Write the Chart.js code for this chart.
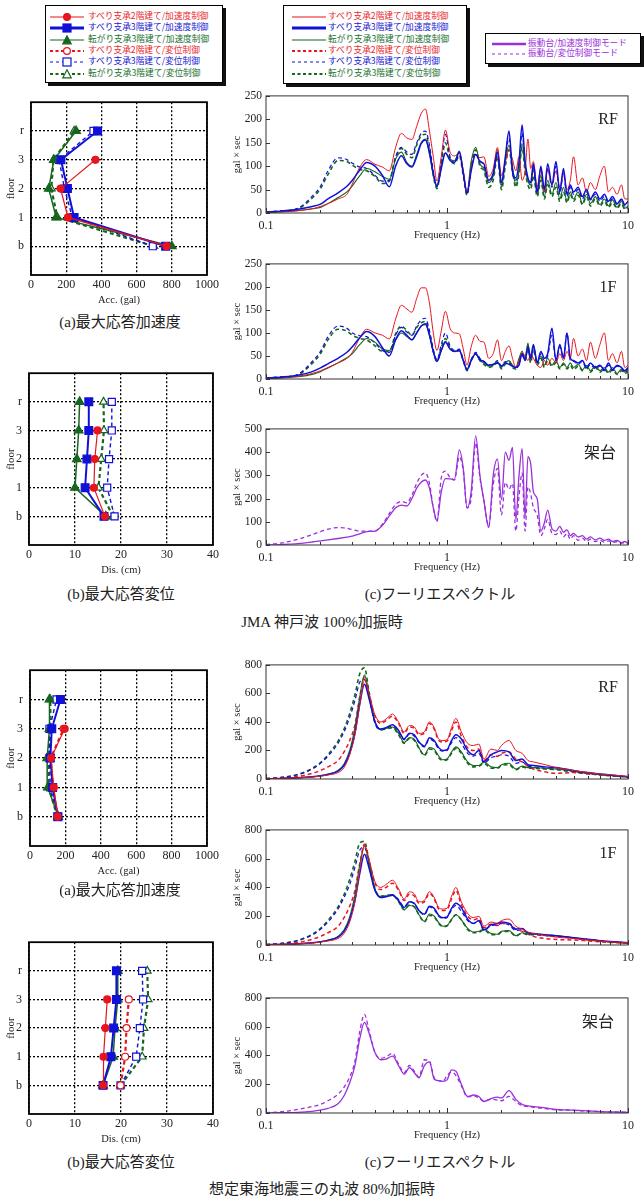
<!DOCTYPE html>
<html>
<head>
<meta charset="utf-8">
<script src="https://cdn.jsdelivr.net/npm/chart.js@4.4.1/dist/chart.umd.min.js"></script>
<style>
  body { margin: 0; width: 644px; height: 1198px; background: #fff; position: relative; overflow: hidden;
         font-family: "Liberation Serif", "Noto Sans CJK JP", serif; color: #222; }
  canvas { position: absolute; }
  .legend { position: absolute; border: 1px solid #000; background: #fff; box-shadow: 3px 3px 0 #111; }
  .row { position: absolute; height: 12px; left: 0; right: 0; }
  .row svg { position: absolute; top: 1px; }
  .row span { position: absolute; top: -1px; font-family: "Noto Sans CJK JP", sans-serif; font-size: 8.7px; white-space: nowrap; line-height: 12px; }
  .txt { position: absolute; transform: translate(-50%, -50%); white-space: nowrap; }
  .cap { font-size: 15px; }
  .tag { font-size: 16px; }
  .tagj { font-size: 16px; font-family: "Noto Sans CJK JP", sans-serif; }
</style>
</head>
<body>

<div class="legend" id="leg1" style="left:45px;top:5px;width:176px;height:76px"></div>
<div class="legend" id="leg2" style="left:283px;top:5px;width:182px;height:77px"></div>
<div class="legend" id="leg3" style="left:485px;top:33px;width:154px;height:29px"></div>

<canvas id="kobeAcc" width="222" height="221" style="left:0;top:88px"></canvas>
<canvas id="kobeDis" width="222" height="220" style="left:0;top:359px"></canvas>
<canvas id="tokaiAcc" width="222" height="224" style="left:0;top:656px"></canvas>
<canvas id="tokaiDis" width="222" height="220" style="left:0;top:928px"></canvas>

<canvas id="kobeRf" width="414" height="159" style="left:226px;top:85px"></canvas>
<canvas id="kobe1f" width="414" height="157" style="left:226px;top:253px"></canvas>
<canvas id="kobeBase" width="414" height="158" style="left:226px;top:418px"></canvas>
<canvas id="tokaiRf" width="414" height="156" style="left:226px;top:654px"></canvas>
<canvas id="tokai1f" width="414" height="157" style="left:226px;top:819px"></canvas>
<canvas id="tokaiBase" width="414" height="157" style="left:226px;top:987px"></canvas>

<div class="txt tag" style="left:608px;top:119px">RF</div>
<div class="txt tag" style="left:608px;top:287px">1F</div>
<div class="txt tagj" style="left:600px;top:451px">架台</div>
<div class="txt tag" style="left:608px;top:687px">RF</div>
<div class="txt tag" style="left:608px;top:853px">1F</div>
<div class="txt tagj" style="left:598px;top:1020px">架台</div>

<div class="txt cap" style="left:120px;top:320px">(a)最大応答加速度</div>
<div class="txt cap" style="left:121px;top:592px">(b)最大応答変位</div>
<div class="txt cap" style="left:440px;top:592px">(c)フーリエスペクトル</div>
<div class="txt cap" style="left:322px;top:620px">JMA 神戸波 100%加振時</div>
<div class="txt cap" style="left:120px;top:888px">(a)最大応答加速度</div>
<div class="txt cap" style="left:121px;top:1160px">(b)最大応答変位</div>
<div class="txt cap" style="left:440px;top:1160px">(c)フーリエスペクトル</div>
<div class="txt cap" style="left:322px;top:1187px">想定東海地震三の丸波 80%加振時</div>

<script>
// ---- profile data (floor order: b, 1, 2, 3, r) ----
const floorLabels = ['b', '1', '2', '3', 'r'];

const kobeAccS2A = [770, 210, 168, 366];
const kobeAccS3A = [765, 245, 207, 170, 378];
const kobeAccR3A = [800, 143, 101, 130, 256];
const kobeAccS3D = [692, 235, 190, 160, 355];
const kobeAccR3D = [698, 150, 115, 128, 245];

const kobeDisS2A = [16.5, 14.1, 14.3, 14.9];
const kobeDisS3A = [16.3, 12.2, 12.6, 13.0, 13.0];
const kobeDisR3A = [16.7, 10.0, 10.4, 10.8, 11.0];
const kobeDisS3D = [18.6, 17.0, 17.4, 18.0, 18.0];
const kobeDisR3D = [18.3, 15.1, 15.7, 16.3, 16.2];

const tokaiAccS2A = [156, 134, 119, 196];
const tokaiAccS3A = [158, 128, 115, 123, 172];
const tokaiAccR3A = [160, 101, 97, 110, 110];
const tokaiAccS2D = [156, 130, 117, 190];
const tokaiAccS3D = [155, 115, 110, 110, 150];
const tokaiAccR3D = [155, 105, 105, 115, 115];

const tokaiDisS2A = [16.1, 16.2, 16.6, 17.0];
const tokaiDisS3A = [16.1, 17.8, 18.4, 19.0, 19.0];
const tokaiDisR3A = [16.1, 18.3, 18.7, 19.3, 19.3];
const tokaiDisS2D = [19.9, 20.9, 21.2, 21.7];
const tokaiDisS3D = [19.9, 23.3, 24.1, 24.8, 24.6];
const tokaiDisR3D = [19.9, 24.6, 25.0, 25.9, 25.7];

// ---- spectra: JMA Kobe ----
const kobeFreq = [
  0.1, 0.12, 0.15, 0.18, 0.2, 0.22, 0.25, 0.28, 0.3, 0.33,
  0.36, 0.4, 0.44, 0.48, 0.52, 0.56, 0.6, 0.64, 0.68, 0.72,
  0.76, 0.8, 0.84, 0.88, 0.93, 0.98, 1.04, 1.1, 1.17, 1.23,
  1.29, 1.36, 1.44, 1.52, 1.6, 1.7, 1.8, 1.9, 2.0, 2.1,
  2.2, 2.3, 2.4, 2.5, 2.6, 2.7, 2.8, 2.9, 3.0, 3.15,
  3.3, 3.45, 3.6, 3.8, 4.0, 4.2, 4.4, 4.6, 4.8, 5.0,
  5.3, 5.6, 5.9, 6.2, 6.6, 7.0, 7.4, 7.8, 8.2, 8.7,
  9.2, 9.6, 10];

const kobeRfS2A = [
  2, 3, 5, 9, 14, 20, 30, 40, 62, 98,
  114, 104, 98, 90, 140, 170, 160, 157, 185, 212,
  222, 175, 120, 68, 120, 177, 130, 122, 128, 90,
  42, 95, 125, 118, 120, 78, 95, 140, 80, 110,
  135, 115, 90, 120, 70, 90, 158, 95, 110, 55,
  95, 45, 95, 60, 90, 55, 85, 50, 70, 120,
  60, 75, 45, 65, 50, 80, 100, 45, 55, 40,
  60, 30, 30];
const kobeRfS3A = [
  2, 4, 8, 14, 19, 30, 43, 57, 70, 92,
  108, 100, 80, 56, 100, 122, 105, 98, 120, 148,
  156, 130, 85, 57, 95, 128, 112, 108, 130, 85,
  42, 90, 125, 110, 105, 70, 85, 130, 65, 120,
  175, 90, 75, 110, 188, 110, 75, 65, 105, 45,
  100, 50, 105, 60, 110, 45, 95, 40, 60, 45,
  55, 35, 50, 30, 45, 30, 40, 25, 35, 20,
  30, 18, 25];
const kobeRfR3A = [
  1, 2, 5, 9, 12, 20, 33, 45, 58, 80,
  95, 88, 78, 72, 115, 130, 108, 100, 125, 150,
  158, 125, 80, 55, 100, 128, 115, 112, 132, 90,
  45, 110, 140, 105, 95, 65, 80, 135, 55, 110,
  145, 100, 60, 90, 148, 100, 70, 60, 95, 40,
  80, 35, 70, 40, 65, 30, 55, 25, 45, 30,
  45, 20, 40, 20, 35, 18, 30, 15, 28, 12,
  25, 10, 15];
const kobeRfS3D = [
  2, 4, 10, 36, 57, 90, 118, 114, 106, 98,
  95, 80, 68, 70, 120, 140, 130, 125, 150, 170,
  175, 145, 90, 56, 115, 168, 120, 108, 125, 85,
  40, 95, 128, 112, 100, 65, 80, 125, 60, 115,
  160, 85, 70, 100, 170, 105, 70, 60, 95, 40,
  90, 45, 95, 55, 100, 40, 85, 35, 55, 40,
  50, 30, 45, 28, 40, 25, 35, 22, 30, 18,
  28, 15, 20];
const kobeRfR3D = [
  2, 4, 9, 32, 52, 82, 112, 110, 102, 93,
  90, 78, 63, 68, 118, 138, 125, 118, 145, 165,
  168, 135, 80, 52, 105, 150, 115, 105, 122, 80,
  38, 100, 135, 100, 90, 55, 70, 120, 50, 100,
  135, 90, 55, 85, 140, 90, 60, 50, 80, 35,
  70, 30, 60, 35, 55, 25, 45, 22, 40, 25,
  38, 18, 35, 15, 30, 15, 25, 12, 22, 10,
  20, 8, 12];

const kobe1fS2A = [
  2, 3, 6, 12, 18, 25, 35, 45, 58, 90,
  108, 100, 95, 87, 130, 160, 152, 145, 175, 198,
  198, 165, 100, 62, 105, 147, 110, 100, 98, 65,
  30, 70, 95, 82, 80, 45, 55, 85, 40, 60,
  72, 45, 25, 40, 57, 50, 40, 55, 45, 30,
  25, 40, 30, 45, 35, 55, 40, 60, 45, 88,
  50, 65, 40, 80, 45, 75, 100, 40, 55, 35,
  60, 25, 30];
const kobe1fS3A = [
  2, 4, 8, 16, 24, 33, 45, 58, 70, 90,
  103, 92, 68, 50, 85, 105, 95, 85, 100, 115,
  120, 95, 60, 38, 62, 80, 65, 60, 62, 40,
  20, 40, 55, 42, 38, 30, 32, 35, 28, 35,
  32, 28, 25, 30, 55, 40, 70, 45, 75, 35,
  60, 45, 55, 110, 40, 75, 45, 100, 45, 40,
  35, 40, 25, 35, 25, 30, 20, 35, 20, 30,
  25, 18, 25];
const kobe1fR3A = [
  1, 2, 5, 10, 16, 24, 35, 46, 55, 75,
  88, 80, 65, 62, 85, 100, 92, 85, 100, 115,
  118, 95, 58, 40, 62, 82, 65, 60, 62, 40,
  22, 42, 55, 40, 35, 28, 30, 38, 25, 35,
  40, 30, 25, 45, 60, 45, 78, 40, 72, 35,
  50, 30, 45, 30, 40, 25, 35, 25, 35, 25,
  32, 20, 30, 18, 28, 18, 25, 15, 25, 12,
  22, 15, 18];
const kobe1fS3D = [
  2, 4, 10, 38, 60, 92, 115, 110, 100, 94,
  92, 78, 62, 58, 95, 112, 102, 95, 115, 128,
  132, 105, 65, 42, 75, 100, 72, 62, 65, 42,
  20, 42, 58, 45, 38, 30, 32, 40, 28, 38,
  35, 28, 25, 35, 50, 45, 65, 40, 70, 35,
  55, 40, 50, 95, 40, 70, 45, 100, 40, 38,
  32, 38, 22, 32, 22, 28, 18, 30, 18, 28,
  22, 15, 22];
const kobe1fR3D = [
  2, 4, 9, 34, 55, 85, 108, 104, 95, 88,
  85, 72, 60, 60, 98, 115, 105, 95, 112, 122,
  125, 100, 60, 38, 68, 88, 68, 60, 62, 40,
  18, 40, 55, 40, 32, 25, 28, 35, 22, 32,
  38, 25, 22, 40, 55, 40, 72, 35, 65, 30,
  45, 25, 40, 28, 35, 22, 32, 22, 30, 20,
  28, 18, 25, 15, 25, 15, 22, 12, 20, 10,
  18, 12, 15];

const kobeBaseA = [
  0, 2, 6, 13, 18, 22, 28, 34, 38, 48,
  58, 60, 85, 125, 160, 172, 168, 200, 245, 270,
  280, 245, 160, 105, 230, 286, 285, 283, 410, 330,
  160, 230, 470, 300, 190, 75, 300, 370, 195, 400,
  365, 420, 110, 300, 415, 120, 380, 350, 230, 200,
  60, 95, 150, 70, 60, 80, 55, 65, 40, 50,
  35, 40, 25, 35, 22, 30, 20, 25, 15, 20,
  10, 15, 8];
const kobeBaseD = [
  2, 8, 25, 45, 58, 68, 75, 72, 66, 60,
  60, 60, 90, 135, 175, 188, 182, 215, 265, 300,
  310, 265, 160, 100, 290, 318, 290, 280, 380, 320,
  160, 200, 440, 290, 190, 80, 260, 330, 130, 270,
  240, 265, 60, 210, 310, 60, 250, 220, 160, 130,
  40, 70, 110, 50, 45, 60, 35, 50, 25, 40,
  20, 30, 15, 25, 15, 20, 12, 18, 10, 15,
  8, 10, 5];

// ---- spectra: Tokai (Sannomaru) ----
const tokaiFreq = [
  0.1, 0.12, 0.15, 0.18, 0.2, 0.22, 0.25, 0.27, 0.29, 0.31,
  0.33, 0.35, 0.37, 0.4, 0.43, 0.46, 0.5, 0.54, 0.58, 0.62,
  0.66, 0.7, 0.75, 0.8, 0.85, 0.9, 0.95, 1.0, 1.06, 1.12,
  1.2, 1.3, 1.4, 1.5, 1.6, 1.75, 1.9, 2.0, 2.2, 2.4,
  2.6, 2.8, 3.0, 3.5, 4.0, 5.0, 6.0, 7.0, 8.0, 10];

const tokaiRfS2A = [
  2, 4, 8, 14, 20, 28, 45, 80, 170, 310,
  520, 695, 600, 450, 400, 420, 455, 400, 330, 375,
  365, 320, 330, 400, 360, 280, 270, 275, 360, 425,
  330, 250, 235, 245, 140, 210, 200, 235, 270, 200,
  180, 130, 120, 100, 80, 60, 45, 35, 30, 18];
const tokaiRfS2D = [
  2, 6, 18, 40, 60, 85, 130, 190, 270, 380,
  580, 715, 600, 440, 390, 410, 440, 390, 320, 365,
  355, 310, 320, 390, 350, 270, 260, 265, 340, 400,
  300, 220, 200, 210, 130, 170, 160, 180, 190, 140,
  120, 90, 70, 50, 40, 45, 35, 30, 25, 15];
const tokaiRfS3A = [
  2, 4, 8, 15, 22, 32, 55, 95, 180, 320,
  530, 665, 570, 400, 350, 360, 380, 340, 280, 320,
  310, 260, 230, 290, 270, 220, 200, 205, 270, 310,
  280, 200, 170, 200, 120, 170, 190, 200, 190, 130,
  140, 100, 95, 85, 80, 60, 45, 35, 28, 15];
const tokaiRfR3A = [
  2, 4, 8, 15, 23, 34, 60, 105, 200, 360,
  580, 730, 600, 400, 345, 355, 365, 320, 255, 290,
  280, 220, 170, 220, 210, 160, 135, 140, 190, 225,
  190, 120, 95, 95, 120, 85, 80, 100, 110, 70,
  90, 80, 80, 75, 70, 55, 40, 30, 25, 15];
const tokaiRfS3D = [
  3, 10, 30, 70, 110, 160, 250, 330, 430, 550,
  680, 700, 580, 390, 345, 355, 370, 330, 275, 315,
  300, 255, 225, 280, 260, 210, 195, 200, 255, 290,
  250, 180, 160, 180, 110, 150, 160, 170, 160, 110,
  120, 90, 85, 75, 70, 55, 40, 32, 25, 15];
const tokaiRfR3D = [
  3, 10, 32, 75, 115, 170, 265, 350, 460, 590,
  740, 780, 620, 400, 345, 350, 360, 310, 250, 285,
  270, 215, 165, 210, 200, 150, 130, 135, 180, 215,
  180, 110, 85, 90, 110, 75, 75, 95, 100, 65,
  85, 75, 75, 70, 65, 50, 38, 28, 22, 14];

const tokai1fS2A = [
  2, 4, 8, 14, 20, 28, 45, 80, 160, 300,
  520, 690, 600, 440, 400, 420, 450, 390, 320, 370,
  355, 300, 310, 370, 330, 260, 250, 255, 340, 400,
  300, 220, 190, 200, 130, 160, 150, 170, 180, 130,
  110, 90, 80, 65, 55, 45, 35, 28, 22, 15];
const tokai1fS2D = [
  2, 6, 18, 40, 60, 85, 130, 190, 270, 380,
  570, 700, 590, 430, 385, 400, 430, 380, 310, 355,
  340, 290, 300, 360, 320, 250, 240, 245, 320, 380,
  280, 200, 175, 185, 120, 145, 135, 150, 150, 110,
  95, 75, 60, 45, 38, 35, 28, 22, 18, 12];
const tokai1fS3A = [
  2, 4, 8, 15, 22, 32, 55, 95, 175, 310,
  500, 630, 540, 380, 330, 335, 345, 310, 260, 300,
  290, 240, 215, 270, 255, 205, 190, 195, 255, 290,
  260, 180, 150, 170, 105, 140, 150, 160, 150, 110,
  115, 85, 80, 70, 65, 50, 40, 30, 25, 15];
const tokai1fR3A = [
  2, 4, 8, 15, 23, 34, 60, 105, 195, 350,
  560, 690, 580, 390, 335, 340, 345, 305, 245, 275,
  265, 210, 165, 215, 200, 155, 130, 135, 180, 210,
  175, 115, 90, 95, 110, 80, 75, 95, 100, 65,
  85, 75, 75, 70, 65, 50, 38, 28, 22, 14];
const tokai1fS3D = [
  3, 10, 30, 70, 110, 160, 250, 330, 420, 540,
  660, 680, 560, 380, 335, 340, 350, 315, 265, 300,
  285, 240, 210, 265, 245, 200, 185, 190, 245, 275,
  235, 170, 150, 165, 100, 135, 140, 150, 140, 100,
  105, 80, 75, 65, 60, 48, 38, 30, 24, 14];
const tokai1fR3D = [
  3, 10, 32, 75, 115, 170, 265, 350, 455, 580,
  710, 720, 590, 390, 340, 345, 350, 300, 245, 280,
  265, 210, 160, 205, 195, 150, 128, 132, 175, 210,
  175, 108, 85, 88, 105, 72, 72, 90, 95, 62,
  82, 72, 72, 68, 62, 48, 36, 27, 21, 13];

const tokaiBaseA = [
  0, 2, 5, 12, 20, 32, 65, 120, 210, 330,
  520, 630, 560, 420, 370, 375, 395, 330, 270, 315,
  280, 245, 330, 355, 235, 225, 220, 230, 300, 290,
  200, 115, 125, 115, 80, 100, 110, 105, 155, 95,
  60, 50, 45, 35, 25, 20, 15, 10, 8, 5];
const tokaiBaseD = [
  2, 8, 25, 45, 60, 85, 130, 180, 250, 360,
  570, 685, 580, 420, 380, 390, 415, 340, 280, 330,
  290, 250, 370, 360, 245, 225, 220, 260, 285, 260,
  190, 110, 120, 105, 80, 95, 90, 85, 115, 80,
  50, 45, 40, 30, 22, 18, 12, 10, 8, 5];

const logTicks = [0.1, 0.2, 0.3, 0.4, 0.5, 0.6, 0.7, 0.8, 0.9,
                  1, 2, 3, 4, 5, 6, 7, 8, 9, 10];

const RED = '#e8141e', BLUE = '#1010d8', GREEN = '#16661e', PURPLE = '#9a30da';

Chart.defaults.animation = false;
Chart.defaults.responsive = false;
Chart.defaults.devicePixelRatio = 1;
Chart.defaults.font.family = '"Liberation Serif", "Times New Roman", serif';
Chart.defaults.color = '#222';

// box around the plot area plus small inward ticks
const framePlugin = {
  id: 'frame',
  afterDatasetsDraw(chart, args, opts) {
    const { ctx, chartArea: a } = chart;
    ctx.save();
    ctx.setLineDash([]);
    ctx.strokeStyle = opts.color || '#333';
    ctx.lineWidth = opts.width || 1;
    ctx.strokeRect(a.left, a.top, a.right - a.left, a.bottom - a.top);
    if (opts.minor) {
      const xs = chart.scales.x, ys = chart.scales.y;
      ctx.beginPath();
      xs.ticks.forEach(t => {
        const px = Math.round(xs.getPixelForValue(t.value)) + 0.5;
        const len = (t.value === 0.1 || t.value === 1 || t.value === 10) ? 5 : 3;
        ctx.moveTo(px, a.bottom); ctx.lineTo(px, a.bottom - len);
      });
      ys.ticks.forEach(t => {
        const py = Math.round(ys.getPixelForValue(t.value)) + 0.5;
        ctx.moveTo(a.left, py); ctx.lineTo(a.left + 4, py);
      });
      ctx.stroke();
    }
    ctx.restore();
  }
};

function makeSpectrum(id, freq, lines, ymax, step) {
  new Chart(document.getElementById(id), {
    type: 'line',
    data: {
      datasets: lines.map(l => ({
        data: freq.map((f, i) => ({ x: f, y: l.v[i] })),
        borderColor: l.c,
        borderWidth: l.w,
        borderDash: l.d || [],
        pointRadius: 0,
        fill: false,
        cubicInterpolationMode: 'monotone'
      }))
    },
    options: {
      layout: { padding: { top: 6, right: 6, left: 0, bottom: 0 } },
      plugins: { legend: { display: false }, tooltip: { enabled: false },
                 frame: { minor: true, color: '#333', width: 1 } },
      scales: {
        x: {
          type: 'logarithmic', min: 0.1, max: 10,
          afterBuildTicks: s => { s.ticks = logTicks.map(v => ({ value: v })); },
          afterFit: s => { s.height = 31; },
          grid: { display: false, drawTicks: false },
          border: { display: false },
          ticks: { autoSkip: false, maxRotation: 0, padding: 6, font: { size: 12 },
                   callback: v => (v === 0.1 || v === 1 || v === 10) ? String(v) : '' },
          title: { display: true, text: 'Frequency (Hz)', font: { size: 10.5 }, padding: { top: 0, bottom: 2 } }
        },
        y: {
          min: 0, max: ymax,
          afterFit: s => { s.width = 40; },
          grid: { display: false, drawTicks: false },
          border: { display: false },
          ticks: { stepSize: step, padding: 4, font: { size: 11.5 }, callback: v => String(v) },
          title: { display: true, text: 'gal × sec', font: { size: 10.5 }, padding: { top: 5, bottom: 0 } }
        }
      }
    },
    plugins: [framePlugin]
  });
}

function makeProfile(id, series, xmax, step, xTitle, yWidth, padRight) {
  new Chart(document.getElementById(id), {
    type: 'scatter',
    data: {
      datasets: series.map(s => ({
        data: s.v.map((x, i) => ({ x: x, y: i })),
        showLine: true,
        borderColor: s.c,
        borderWidth: s.w,
        borderDash: s.d || [],
        pointStyle: s.p,
        pointRadius: s.r,
        pointBackgroundColor: s.open ? '#fff' : s.c,
        pointBorderColor: s.c,
        pointBorderWidth: 1.2
      }))
    },
    options: {
      layout: { padding: { top: 4, right: padRight, left: 0, bottom: 0 } },
      plugins: { legend: { display: false }, tooltip: { enabled: false },
                 frame: { color: '#000', width: 1.8 } },
      scales: {
        x: {
          type: 'linear', min: 0, max: xmax,
          afterFit: s => { s.height = 34; },
          grid: { color: '#000', lineWidth: 1.3, drawTicks: false },
          border: { display: false, dash: [2, 2] },
          ticks: { stepSize: step, padding: 3, font: { size: 12 }, maxRotation: 0, callback: v => String(v) },
          title: { display: true, text: xTitle, font: { size: 10.5 }, padding: { top: 0, bottom: 2 } }
        },
        y: {
          type: 'linear', min: -1, max: 5,
          afterBuildTicks: s => { s.ticks = [0, 1, 2, 3, 4].map(v => ({ value: v })); },
          afterFit: s => { s.width = yWidth; },
          grid: { color: '#000', lineWidth: 1.3, drawTicks: false },
          border: { display: false, dash: [2, 2] },
          ticks: { padding: 7, font: { size: 12 }, callback: v => floorLabels[v] },
          title: { display: true, text: 'floor', font: { size: 11 }, padding: { top: 5, bottom: 0 } }
        }
      }
    },
    plugins: [framePlugin]
  });
}

// profile series styles
const S2A = { c: RED, w: 1.2, p: 'circle', r: 3.5 };
const S3A = { c: BLUE, w: 2, p: 'rect', r: 5.5 };
const R3A = { c: GREEN, w: 1.5, p: 'triangle', r: 5 };
const S2D = { c: RED, w: 2.2, d: [4, 3], p: 'circle', r: 3.5, open: true };
const S3D = { c: BLUE, w: 1.4, d: [4, 3], p: 'rect', r: 5, open: true };
const R3D = { c: GREEN, w: 2.2, d: [4, 3], p: 'triangle', r: 4.5, open: true };

makeProfile('kobeAcc', [
  { ...S2A, v: kobeAccS2A }, { ...S3A, v: kobeAccS3A }, { ...R3A, v: kobeAccR3A },
  { ...S3D, v: kobeAccS3D }, { ...R3D, v: kobeAccR3D }
], 1000, 200, 'Acc. (gal)', 31, 9);

makeProfile('kobeDis', [
  { ...S2A, v: kobeDisS2A }, { ...S3A, v: kobeDisS3A }, { ...R3A, v: kobeDisR3A },
  { ...S3D, v: kobeDisS3D }, { ...R3D, v: kobeDisR3D }
], 40, 10, 'Dis. (cm)', 29, 9);

makeProfile('tokaiAcc', [
  { ...S2A, v: tokaiAccS2A }, { ...S3A, v: tokaiAccS3A }, { ...R3A, v: tokaiAccR3A },
  { ...S2D, v: tokaiAccS2D }, { ...S3D, v: tokaiAccS3D }, { ...R3D, v: tokaiAccR3D }
], 1000, 200, 'Acc. (gal)', 30, 10);

makeProfile('tokaiDis', [
  { ...S2A, v: tokaiDisS2A }, { ...S3A, v: tokaiDisS3A }, { ...R3A, v: tokaiDisR3A },
  { ...S2D, v: tokaiDisS2D }, { ...S3D, v: tokaiDisS3D }, { ...R3D, v: tokaiDisR3D }
], 40, 10, 'Dis. (cm)', 29, 9);

// spectrum line styles
const L_S2A = { c: RED, w: 1 };
const L_S3A = { c: BLUE, w: 1.5 };
const L_R3A = { c: GREEN, w: 1.1 };
const L_S2D = { c: RED, w: 1.5, d: [4, 3] };
const L_S3D = { c: BLUE, w: 1.2, d: [4, 3] };
const L_R3D = { c: GREEN, w: 1.6, d: [4, 3] };

makeSpectrum('kobeRf', kobeFreq, [
  { ...L_S3A, v: kobeRfS3A }, { ...L_S2A, v: kobeRfS2A }, { ...L_R3A, v: kobeRfR3A },
  { ...L_S3D, v: kobeRfS3D }, { ...L_R3D, v: kobeRfR3D }
], 250, 50);
makeSpectrum('kobe1f', kobeFreq, [
  { ...L_S3A, v: kobe1fS3A }, { ...L_S2A, v: kobe1fS2A }, { ...L_R3A, v: kobe1fR3A },
  { ...L_S3D, v: kobe1fS3D }, { ...L_R3D, v: kobe1fR3D }
], 250, 50);
makeSpectrum('kobeBase', kobeFreq, [
  { c: PURPLE, w: 1.3, v: kobeBaseA }, { c: PURPLE, w: 1.3, d: [4, 3], v: kobeBaseD }
], 500, 100);

makeSpectrum('tokaiRf', tokaiFreq, [
  { ...L_S2A, v: tokaiRfS2A }, { ...L_S3A, v: tokaiRfS3A }, { ...L_R3A, v: tokaiRfR3A },
  { ...L_S2D, v: tokaiRfS2D }, { ...L_S3D, v: tokaiRfS3D }, { ...L_R3D, v: tokaiRfR3D }
], 800, 100);
makeSpectrum('tokai1f', tokaiFreq, [
  { ...L_S2A, v: tokai1fS2A }, { ...L_S3A, v: tokai1fS3A }, { ...L_R3A, v: tokai1fR3A },
  { ...L_S2D, v: tokai1fS2D }, { ...L_S3D, v: tokai1fS3D }, { ...L_R3D, v: tokai1fR3D }
], 800, 100);
makeSpectrum('tokaiBase', tokaiFreq, [
  { c: PURPLE, w: 1.3, v: tokaiBaseA }, { c: PURPLE, w: 1.3, d: [4, 3], v: tokaiBaseD }
], 800, 100);

// ---- legends ----
const legendNames = [
  'すべり支承2階建て/加速度制御', 'すべり支承3階建て/加速度制御', '転がり支承3階建て/加速度制御',
  'すべり支承2階建て/変位制御', 'すべり支承3階建て/変位制御', '転がり支承3階建て/変位制御'];
const legendTextColors = ['#e82830', '#2020d0', '#207030', '#e82830', '#2020d0', '#207030'];
const legendLines = [
  { c: RED, w: 1.2 }, { c: BLUE, w: 2.8 }, { c: GREEN, w: 1.2 },
  { c: RED, w: 2.2, d: '3,2.5' }, { c: BLUE, w: 1.2, d: '3,3' }, { c: GREEN, w: 2.2, d: '3,2.5' }];
const legendMarks = ['dot', 'sq', 'tri', 'odot', 'osq', 'otri'];

function markSvg(kind, c) {
  const fill = kind[0] === 'o' ? '#fff' : c;
  const k = kind.replace(/^o/, '');
  if (k === 'dot') return `<circle cx="17" cy="5" r="3.4" fill="${fill}" stroke="${c}" stroke-width="1.2"/>`;
  if (k === 'sq') return `<rect x="13" y="1" width="8" height="8" fill="${fill}" stroke="${c}" stroke-width="1.2"/>`;
  return `<polygon points="17,0.8 21.2,8.8 12.8,8.8" fill="${fill}" stroke="${c}" stroke-width="1.2"/>`;
}

function buildLegend(id, names, colors, lines, marks, svgLeft, textLeft, firstY, stepY) {
  const box = document.getElementById(id);
  names.forEach((n, i) => {
    const l = lines[i];
    const row = document.createElement('div');
    row.className = 'row';
    row.style.top = (firstY + i * stepY - 6) + 'px';
    const dash = l.d ? ` stroke-dasharray="${l.d}"` : '';
    row.innerHTML =
      `<svg width="34" height="10" style="left:${svgLeft}px">` +
      `<line x1="0" y1="5" x2="34" y2="5" stroke="${l.c}" stroke-width="${l.w}"${dash}/>` +
      (marks ? markSvg(marks[i], l.c) : '') + `</svg>` +
      `<span style="left:${textLeft}px;color:${colors[i]}">${n}</span>`;
    box.appendChild(row);
  });
}

buildLegend('leg1', legendNames, legendTextColors, legendLines, legendMarks, 4, 42, 11, 11.3);
buildLegend('leg2', legendNames, legendTextColors, legendLines, null, 8, 44, 11, 11.3);
buildLegend('leg3', ['振動台/加速度制御モード', '振動台/変位制御モード'], ['#9a30da', '#9a30da'],
  [{ c: PURPLE, w: 2.6 }, { c: PURPLE, w: 1.2, d: '3,3' }], null, 6, 42, 10, 10);
</script>
</body>
</html>
